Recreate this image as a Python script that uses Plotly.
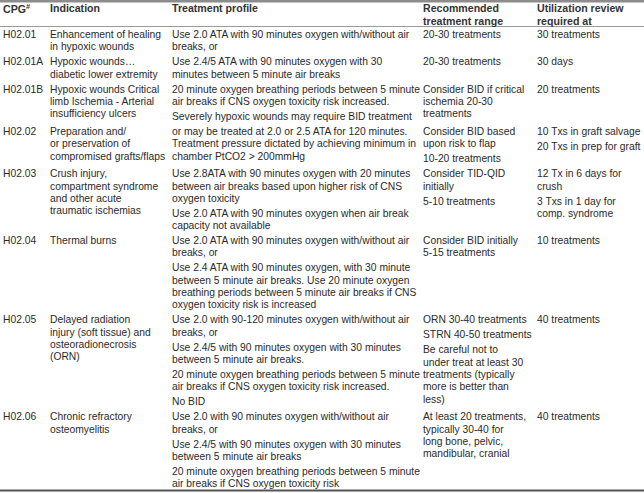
import plotly.graph_objects as go

W, H = 644, 493

# ---------------- data ----------------
headers = [
    ["CPG<sup>#</sup>"],
    ["Indication"],
    ["Treatment profile"],
    ["Recommended", "treatment range"],
    ["Utilization review", "required at"],
]

cpg = ["H02.01", "H02.01A", "H02.01B", "H02.02", "H02.03", "H02.04", "H02.05", "H02.06"]

indication = [
    [["Enhancement of healing", "in hypoxic wounds"]],
    [["Hypoxic wounds\u2026", "diabetic lower extremity"]],
    [["Hypoxic wounds Critical", "limb Ischemia - Arterial", "insufficiency ulcers"]],
    [["Preparation and/", "or preservation of", "compromised grafts/flaps"]],
    [["Crush injury,", "compartment syndrome", "and other acute", "traumatic ischemias"]],
    [["Thermal burns"]],
    [["Delayed radiation", "injury (soft tissue) and", "osteoradionecrosis", "(ORN)"]],
    [["Chronic refractory", "osteomyelitis"]],
]

treatment = [
    [["Use 2.0 ATA with 90 minutes oxygen with/without air", "breaks, or"]],
    [["Use 2.4/5 ATA with 90 minutes oxygen with 30", "minutes between 5 minute air breaks"]],
    [["20 minute oxygen breathing periods between 5 minute", "air breaks if CNS oxygen toxicity risk increased."],
     ["Severely hypoxic wounds may require BID treatment"]],
    [["or may be treated at 2.0 or 2.5 ATA for 120 minutes.", "Treatment pressure dictated by achieving minimum in",
      "chamber PtCO2 > 200mmHg"]],
    [["Use 2.8ATA with 90 minutes oxygen with 20 minutes", "between air breaks based upon higher risk of CNS",
      "oxygen toxicity"],
     ["Use 2.0 ATA with 90 minutes oxygen when air break", "capacity not available"]],
    [["Use 2.0 ATA with 90 minutes oxygen with/without air", "breaks, or"],
     ["Use 2.4 ATA with 90 minutes oxygen, with 30 minute", "between 5 minute air breaks. Use 20 minute oxygen",
      "breathing periods between 5 minute air breaks if CNS", "oxygen toxicity risk is increased"]],
    [["Use 2.0 with 90-120 minutes oxygen with/without air", "breaks, or"],
     ["Use 2.4/5 with 90 minutes oxygen with 30 minutes", "between 5 minute air breaks."],
     ["20 minute oxygen breathing periods between 5 minute", "air breaks if CNS oxygen toxicity risk increased."],
     ["No BID"]],
    [["Use 2.0 with 90 minutes oxygen with/without air", "breaks, or"],
     ["Use 2.4/5 with 90 minutes oxygen with 30 minutes", "between 5 minute air breaks"],
     ["20 minute oxygen breathing periods between 5 minute", "air breaks if CNS oxygen toxicity risk"]],
]

recommended = [
    [["20-30 treatments"]],
    [["20-30 treatments"]],
    [["Consider BID if critical", "ischemia 20-30", "treatments"]],
    [["Consider BID based", "upon risk to flap"], ["10-20 treatments"]],
    [["Consider TID-QID", "initially"], ["5-10 treatments"]],
    [["Consider BID initially", "5-15 treatments"]],
    [["ORN 30-40 treatments"], ["STRN 40-50 treatments"],
     ["Be careful not to", "under treat at least 30", "treatments (typically", "more is better than", "less)"]],
    [["At least 20 treatments,", "typically 30-40 for", "long bone, pelvic,", "mandibular, cranial"]],
]

utilization = [
    [["30 treatments"]],
    [["30 days"]],
    [["20 treatments"]],
    [["10 Txs in graft salvage"], ["20 Txs in prep for graft"]],
    [["12 Tx in 6 days for", "crush"], ["3 Txs in 1 day for", "comp. syndrome"]],
    [["10 treatments"]],
    [["40 treatments"]],
    [["40 treatments"]],
]

# ---------------- layout parameters ----------------
col_x = [2, 48.5, 171, 422, 536]
FONT = "Liberation Sans, Arial, sans-serif"
FS = 10.3
TXT = "#2a2a2a"
LINE = 12.3
PARA = 2.7
ROWGAP = 2.7
HEAD_Y = 8.0
FIRST_Y = 34.5

annotations = []


def add_text(x, y, s, bold=False):
    annotations.append(dict(
        x=x, y=y, xref="x", yref="y", text=("<b>%s</b>" % s) if bold else s,
        showarrow=False, xanchor="left", yanchor="middle", align="left",
        borderpad=0,
        font=dict(family=FONT, size=FS + (0.3 if bold else 0), color="#333333" if bold else TXT),
    ))


# header
for ci, lines in enumerate(headers):
    for li, s in enumerate(lines):
        add_text(col_x[ci], HEAD_Y + li * 12.6, s, bold=True)

columns = [[[[c]] for c in cpg], indication, treatment, recommended, utilization]
y0 = FIRST_Y
for ri in range(len(cpg)):
    row_end = y0
    for ci, col in enumerate(columns):
        y = y0
        last = y0
        for pi, para in enumerate(col[ri]):
            if pi > 0:
                y += PARA
            for s in para:
                add_text(col_x[ci], y, s)
                last = y
                y += LINE
        row_end = max(row_end, last)
    y0 = row_end + LINE + ROWGAP

fig = go.Figure()
fig.add_trace(go.Scatter(x=[0, W], y=[0, H], mode="markers", marker=dict(opacity=0),
                         hoverinfo="skip", showlegend=False))

shapes = [
    dict(type="rect", xref="x", yref="y", x0=0, x1=W, y0=0, y1=2.5, fillcolor="#8c8c8c", line=dict(width=0)),
    dict(type="line", xref="x", yref="y", x0=0, x1=W, y0=26.5, y1=26.5, line=dict(color="#9a9a9a", width=1)),
    dict(type="line", xref="x", yref="y", x0=0, x1=W, y0=490.5, y1=490.5, line=dict(color="#555555", width=2)),
]

fig.update_layout(
    width=W, height=H, margin=dict(l=0, r=0, t=0, b=0),
    paper_bgcolor="white", plot_bgcolor="white",
    xaxis=dict(range=[0, W], visible=False, fixedrange=True),
    yaxis=dict(range=[H, 0], visible=False, fixedrange=True),
    annotations=annotations, shapes=shapes, showlegend=False,
)

fig.write_html("out.html", config={"displayModeBar": False},
               post_script="document.body.style.margin='0';document.body.style.overflow='hidden';")
